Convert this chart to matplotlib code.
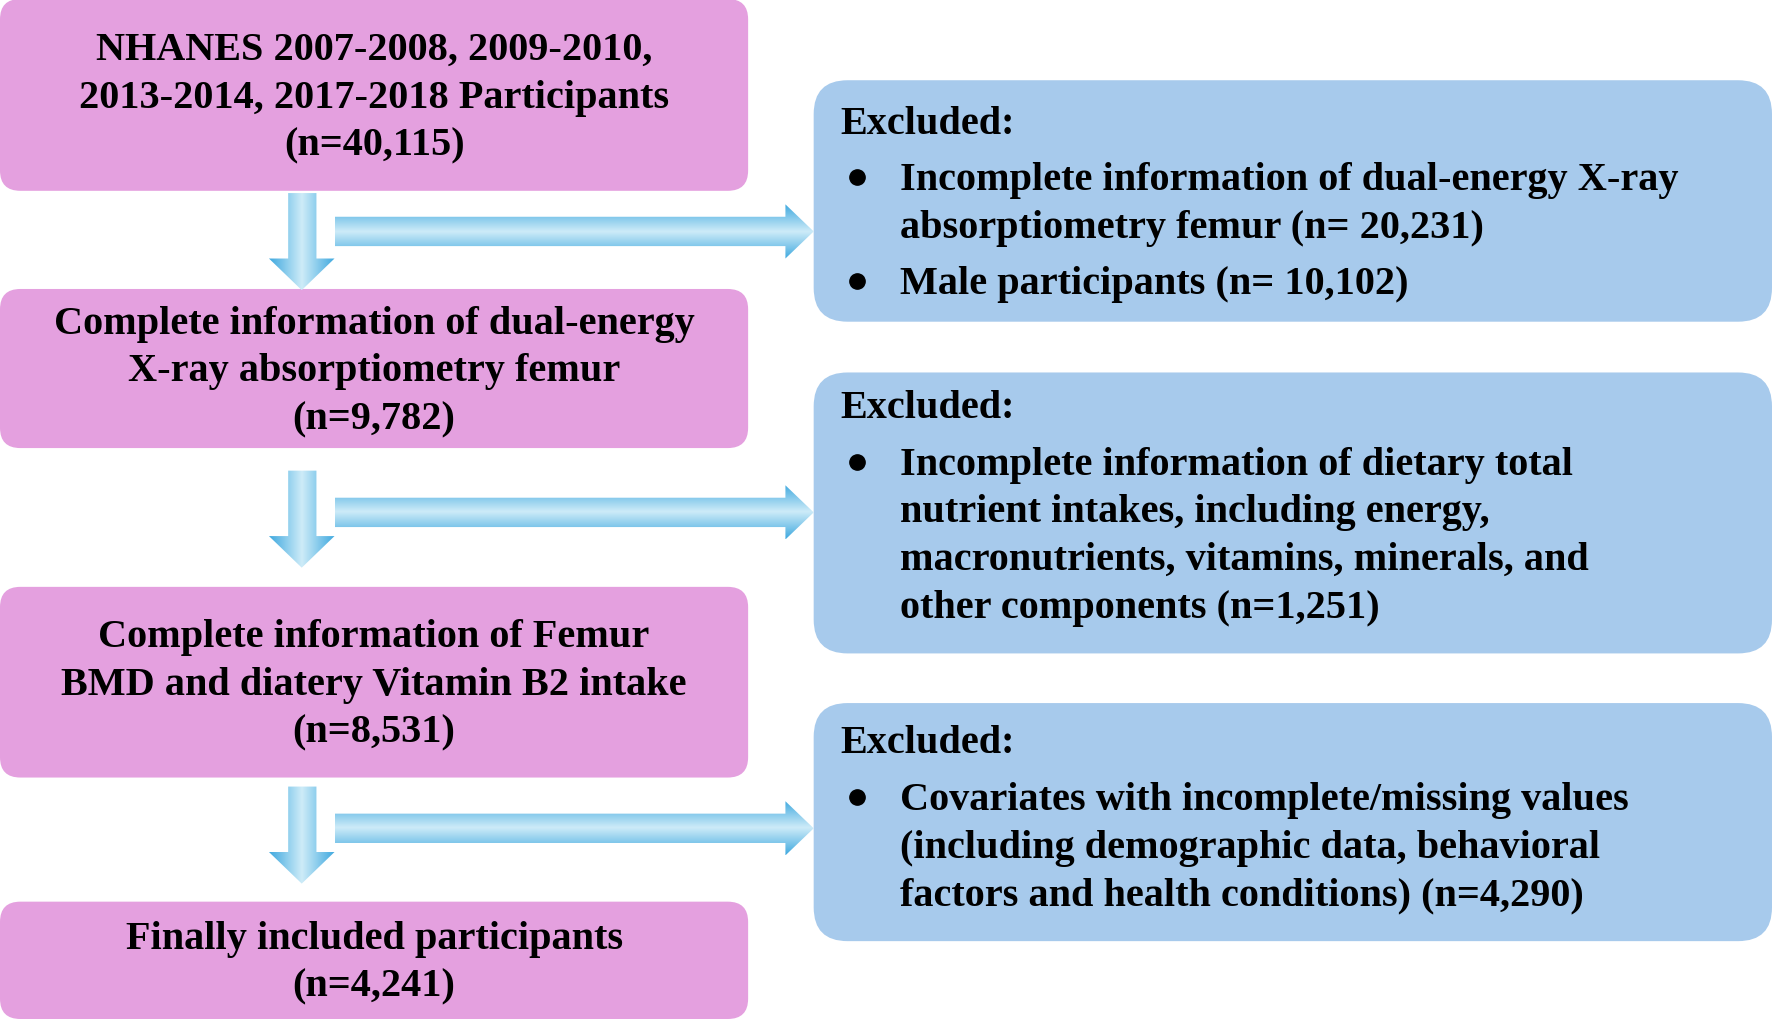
import matplotlib
matplotlib.use("Agg")
import matplotlib.pyplot as plt
import numpy as np
from matplotlib.patches import FancyBboxPatch, Polygon

main_texts = [
    "NHANES 2007-2008, 2009-2010,\n2013-2014, 2017-2018 Participants\n(n=40,115)",
    "Complete information of dual-energy\nX-ray absorptiometry femur\n(n=9,782)",
    "Complete information of Femur\nBMD and diatery Vitamin B2 intake\n(n=8,531)",
    "Finally included participants\n(n=4,241)",
]
excl_items = [
    ["Incomplete information of dual-energy X-ray\nabsorptiometry femur (n= 20,231)",
     "Male participants (n= 10,102)"],
    ["Incomplete information of dietary total\nnutrient intakes, including energy,\nmacronutrients, vitamins, minerals, and\nother components (n=1,251)"],
    ["Covariates with incomplete/missing values\n(including demographic data, behavioral\nfactors and health conditions) (n=4,290)"],
]

W, H = 1568, 904
fig = plt.figure(figsize=(17.72, 10.20), dpi=100)
ax = fig.add_axes([0, 0, 1, 1])
ax.set_xlim(0, W); ax.set_ylim(H, 0); ax.axis("off")

FONT = dict(family="Liberation Serif", weight="bold", fontsize=29, color="black")
LH = 46

pink = "#E4A0DF"; blue = "#A7CAEC"
main_boxes = [(0, 0, 662, 170), (0, 257, 662, 398), (0, 521, 662, 690), (0, 800, 662, 904)]
for (x0, y0, x1, y1), t in zip(main_boxes, main_texts):
    ax.add_patch(FancyBboxPatch((x0 + 18, y0 + 18), x1 - x0 - 36, y1 - y0 - 36,
                                boxstyle="round,pad=18", fc=pink, ec="none"))
    ax.text((x0 + x1) / 2, (y0 + y1) / 2 + 2, t, ha="center", va="center",
            linespacing=1.38, **FONT)

ex_boxes = [(720, 72, 1568, 286), (720, 331, 1568, 580), (720, 624, 1568, 835)]
line_starts = [[158, 250], [410], [707]]
for (x0, y0, x1, y1), items, starts in zip(ex_boxes, excl_items, line_starts):
    ax.add_patch(FancyBboxPatch((x0 + 30, y0 + 30), x1 - x0 - 60, y1 - y0 - 60,
                                boxstyle="round,pad=30", fc=blue, ec="none"))
    ax.text(744, starts[0] - 48, "Excluded:", ha="left", va="center", **FONT)
    for it, s in zip(items, starts):
        ax.plot(758, s, "o", color="black", ms=11)
        ax.text(796, s - 14, it, ha="left", va="top", linespacing=1.38, **FONT)

grad_h = np.linspace(0, 1, 256)[None, :]
grad_v = np.abs(np.linspace(-1, 1, 256))[None, :]
from matplotlib.colors import LinearSegmentedColormap
cmap = LinearSegmentedColormap.from_list("b", ["#CDEBF8", "#3FA9DF"])

def arrow(poly, ext, horiz):
    p = Polygon(poly, closed=True, fc="none", ec="none")
    ax.add_patch(p)
    g = np.abs(np.linspace(-1, 1, 256))
    img = g[:, None] if horiz else g[None, :]
    im = ax.imshow(img, cmap=cmap, extent=ext, aspect="auto", zorder=2)
    im.set_clip_path(p)

for y0 in [172, 418, 698]:
    pts = [(255, y0), (280, y0), (280, y0 + 58), (296, y0 + 58), (267, y0 + 86),
           (238, y0 + 58), (255, y0 + 58)]
    arrow(pts, (238, 296, y0 + 86, y0), False)

for yc in [206, 455, 735]:
    pts = [(296, yc - 13), (695, yc - 13), (695, yc - 24), (720, yc), (695, yc + 24),
           (695, yc + 13), (296, yc + 13)]
    arrow(pts, (296, 720, yc + 24, yc - 24), True)

fig.savefig("out.png", dpi=100)
